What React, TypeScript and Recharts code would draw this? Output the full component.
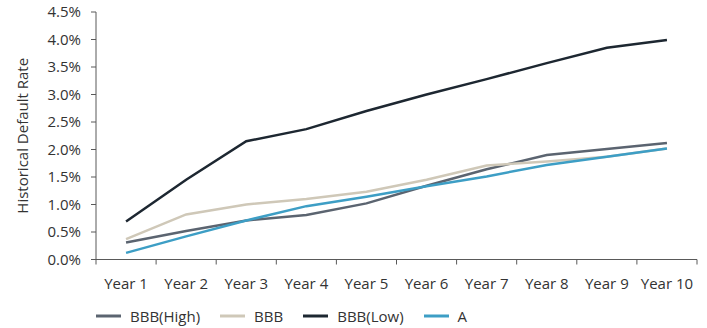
import { LineChart, Line, XAxis, YAxis, Legend } from 'recharts';

const years = ['Year 1', 'Year 2', 'Year 3', 'Year 4', 'Year 5', 'Year 6', 'Year 7', 'Year 8', 'Year 9', 'Year 10'];
const seriesNames = ['BBB(High)', 'BBB', 'BBB(Low)', 'A'];
const bbbHigh = [0.31, 0.52, 0.71, 0.81, 1.02, 1.34, 1.64, 1.9, 2.01, 2.12];
const bbb = [0.37, 0.82, 1.0, 1.1, 1.23, 1.45, 1.71, 1.78, 1.87, 2.02];
const bbbLow = [0.69, 1.45, 2.15, 2.37, 2.7, 3.0, 3.28, 3.57, 3.85, 3.99];
const ratingA = [0.12, 0.42, 0.71, 0.97, 1.14, 1.33, 1.51, 1.72, 1.87, 2.02];
const yTicks = [0, 0.5, 1, 1.5, 2, 2.5, 3, 3.5, 4, 4.5];

const data = years.map((year, i) => ({
    year,
    high: bbbHigh[i],
    mid: bbb[i],
    low: bbbLow[i],
    a: ratingA[i],
}));

const FONT = "'Open Sans', sans-serif";
const TEXT = '#333';
const AXIS = '#595959';
const W = 707;
const H = 328;
const LEFT = 96;
const RIGHT = 10;
const BAND = (W - LEFT - RIGHT) / years.length;

function YearTick(props: any) {
    const { x, y, index } = props;
    const last = index === years.length - 1;
    return (
        <g>
            <line x1={x - BAND / 2} x2={x - BAND / 2} y1={y} y2={y + 5} stroke={AXIS} />
            {last && <line x1={x + BAND / 2} x2={x + BAND / 2} y1={y} y2={y + 5} stroke={AXIS} />}
            <text x={x} y={y + 29} textAnchor="middle" fill={TEXT} fontSize={15} fontFamily={FONT}>
                {props.payload.value}
            </text>
        </g>
    );
}

function LegendBox(props: any) {
    // keep the series order instead of the alphabetical one
    const items = [...(props.payload || [])].sort(
        (p: any, q: any) => seriesNames.indexOf(p.value) - seriesNames.indexOf(q.value)
    );
    return (
        <div style={{ display: 'flex', alignItems: 'center', height: 30, paddingTop: 5, boxSizing: 'border-box', fontFamily: FONT, fontSize: 15, color: TEXT }}>
            {items.map((it: any) => (
                <div key={it.value} style={{ display: 'flex', alignItems: 'center', marginRight: 20 }}>
                    <svg width={25} height={4} style={{ marginRight: 9 }}>
                        <line x1={0} x2={25} y1={2} y2={2} stroke={it.color} strokeWidth={3} />
                    </svg>
                    <span>{it.value}</span>
                </div>
            ))}
        </div>
    );
}

export default function App() {
    return (
        <div style={{ width: W, height: H }}>
            <style>{'body{margin:0}'}</style>
            <LineChart width={W} height={H} data={data} margin={{ top: 12, right: RIGHT, left: 0, bottom: 0 }}>
                <XAxis
                    dataKey="year"
                    scale="band"
                    height={38.5}
                    tickLine={false}
                    tickSize={0}
                    tickMargin={0}
                    axisLine={{ stroke: AXIS }}
                    tick={<YearTick />}
                    interval={0}
                />
                <YAxis
                    width={LEFT}
                    domain={[0, 4.5]}
                    ticks={yTicks}
                    tickFormatter={(v: number) => `${v.toFixed(1)}%`}
                    tickSize={5}
                    tickMargin={10}
                    axisLine={{ stroke: AXIS }}
                    tickLine={{ stroke: AXIS }}
                    tick={{ fill: TEXT, fontSize: 15, fontFamily: FONT }}
                    label={{
                        content: (p: any) => {
                            const vb = p.viewBox;
                            const cx = vb.x + 22;
                            const cy = vb.y + vb.height / 2;
                            return (
                                <text x={cx} y={cy} transform={`rotate(-90 ${cx} ${cy})`} textAnchor="middle" dominantBaseline="central" fill={TEXT} fontSize={15} fontFamily={FONT}>
                                    Historical Default Rate
                                </text>
                            );
                        },
                    }}
                />
                <Legend content={<LegendBox />} verticalAlign="bottom" wrapperStyle={{ left: 96, width: 560 }} />
                <Line dataKey="high" name={seriesNames[0]} stroke="#5b6470" strokeWidth={2.5} dot={false} isAnimationActive={false} />
                <Line dataKey="mid" name={seriesNames[1]} stroke="#cfc8b8" strokeWidth={2.5} dot={false} isAnimationActive={false} />
                <Line dataKey="low" name={seriesNames[2]} stroke="#1d2731" strokeWidth={2.5} dot={false} isAnimationActive={false} />
                <Line dataKey="a" name={seriesNames[3]} stroke="#3d9ec5" strokeWidth={2.5} dot={false} isAnimationActive={false} />
            </LineChart>
        </div>
    );
}
